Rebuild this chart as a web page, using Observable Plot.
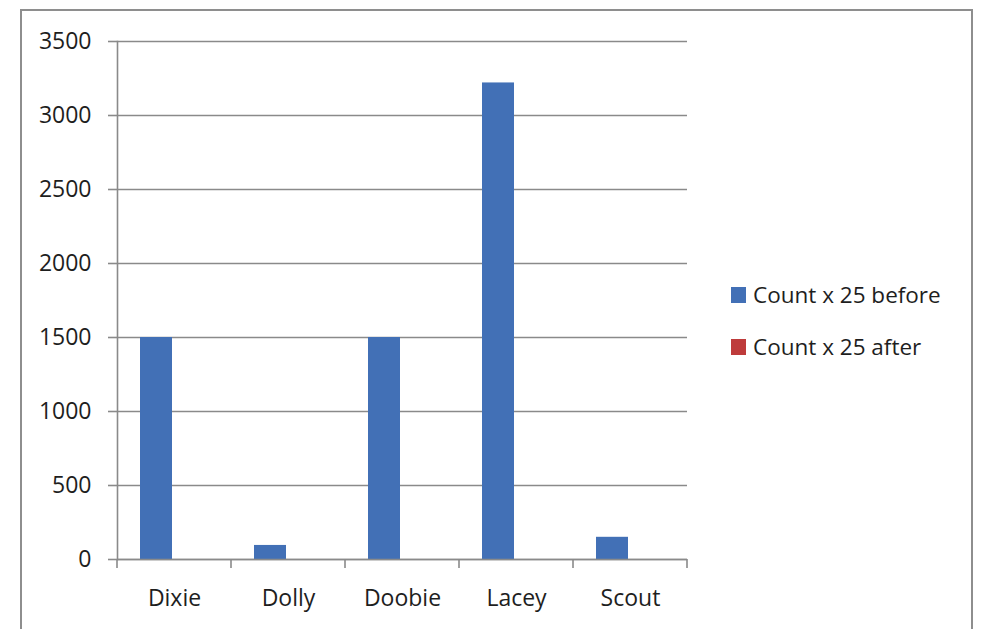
<!DOCTYPE html>
<html><head><meta charset="utf-8">
<script src="https://cdn.jsdelivr.net/npm/d3@7"></script>
<script src="https://cdn.jsdelivr.net/npm/@observablehq/plot@0.6"></script>
<style>
body{margin:0;background:#fff;}
#wrap{position:relative;width:981px;height:629px;overflow:hidden;font-family:"Open Sans",sans-serif;}
#chart svg{position:absolute;left:0;top:0;}
#border{position:absolute;left:20px;top:9px;width:953px;height:680px;border:2px solid #8e8e8e;box-sizing:border-box;pointer-events:none;}
#legend{position:absolute;left:731px;top:282px;font-size:22.5px;color:#1e1e1e;line-height:26px;}
.item{display:flex;align-items:center;height:26px;margin-bottom:26px;white-space:pre;}
.sw{width:15px;height:16px;margin-right:7px;}
</style></head>
<body><div id="wrap"><div id="chart"></div><div id="legend"></div><div id="border"></div></div>
<script>
const categories = ["Dixie", "Dolly", "Doobie", "Lacey", "Scout"];
const series = ["Count x 25 before", "Count x 25 after"];
const before = [1500, 95, 1500, 3220, 150];
const after = [0, 0, 0, 0, 0];
const yTicks = [0, 500, 1000, 1500, 2000, 2500, 3000, 3500];
const colors = ["#4270B6", "#BE3B3B"];

const data = categories.flatMap((c, i) => [
  {category: c, series: series[0], value: before[i]},
  {category: c, series: series[1], value: after[i]}
]);

const gray = "#8a8a8a";
const plot = Plot.plot({
  width: 981, height: 629,
  marginLeft: 116, marginRight: 293, marginTop: 41, marginBottom: 70,
  style: {fontFamily: '"Open Sans", sans-serif', fontSize: "23px", color: "#1e1e1e", background: "transparent", overflow: "visible"},
  fx: {domain: categories, paddingInner: 0, paddingOuter: 0, label: null, axis: null},
  x: {domain: series, paddingInner: 0, paddingOuter: 0.75, axis: null},
  y: {domain: [0, 3500], label: null},
  color: {domain: series, range: colors},
  marks: [
    Plot.gridY(yTicks, {stroke: gray, strokeOpacity: 1, strokeWidth: 1.6}),
    Plot.barY(data, {fx: "category", x: "series", y: "value", fill: "series", dx: -2}),
    Plot.ruleY([0], {stroke: gray, strokeWidth: 1.6}),
    Plot.axisY(yTicks, {tickSize: 9, tickPadding: 17, tickFormat: d => String(d), stroke: gray, strokeWidth: 1.6, fill: "#1e1e1e", label: null}),
    Plot.axisFx({anchor: "bottom", tickSize: 0, tickPadding: 30, label: null, fill: "#1e1e1e"}),
    Plot.frame({anchor: "left", facetAnchor: "left", stroke: gray, strokeWidth: 1.6})
  ]
});
document.getElementById("chart").appendChild(plot);

// category boundary tick marks below the baseline, from the fx and y scales
const fx = plot.scale("fx");
const ys = plot.scale("y");
const bounds = categories.map(c => fx.apply(c)).concat([fx.apply(categories[categories.length - 1]) + fx.bandwidth]);
const y0 = ys.apply(0);
d3.select(plot).append("g")
  .selectAll("line").data(bounds).join("line")
  .attr("x1", d => d).attr("x2", d => d)
  .attr("y1", y0).attr("y2", y0 + 9)
  .attr("stroke", gray).attr("stroke-width", 1.6);

// legend
const color = plot.scale("color");
const legend = d3.select("#legend");
series.forEach(s => {
  const item = legend.append("div").attr("class", "item");
  item.append("div").attr("class", "sw").style("background", color.apply(s));
  item.append("span").text(s);
});
</script>
</body></html>
